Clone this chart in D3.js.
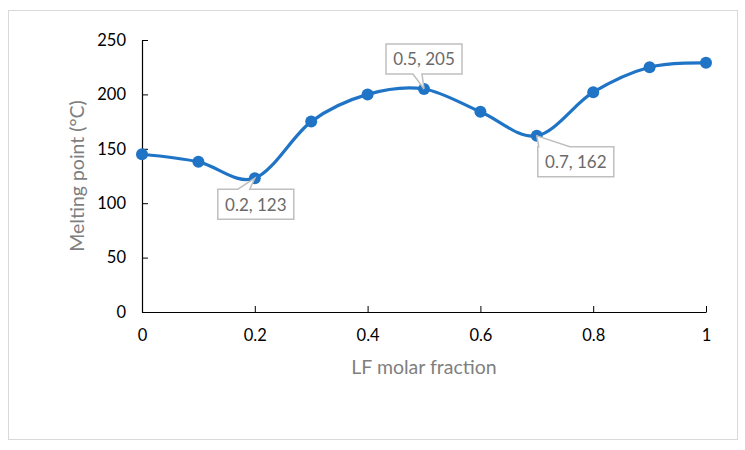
<!DOCTYPE html>
<html>
<head>
<meta charset="utf-8">
<script src="https://cdn.jsdelivr.net/npm/d3@7"></script>
<style>
    html, body { margin: 0; padding: 0; background: #fff; }
    svg { display: block; }
</style>
</head>
<body>
<svg id="chart"></svg>
<script>
'use strict';

const fractions = [0, 0.1, 0.2, 0.3, 0.4, 0.5, 0.6, 0.7, 0.8, 0.9, 1];
const meltingPoints = [145, 138, 123, 175, 200, 205, 184, 162, 202, 225, 229];
const xTicks = [0, 0.2, 0.4, 0.6, 0.8, 1];
const yTicks = [0, 50, 100, 150, 200, 250];
const labelledIdx = [2, 5, 7];

const width = 745;
const height = 450;
const font = 'Lato, "Liberation Sans", sans-serif';
const blue = '#1f74c6';

const svg = d3.select('#chart')
    .attr('width', width)
    .attr('height', height);

// outer chart border
svg.append('rect')
    .attr('x', 8.5)
    .attr('y', 10.5)
    .attr('width', 729)
    .attr('height', 429)
    .attr('fill', 'white')
    .attr('stroke', '#d9d9d9');

const x = d3.scaleLinear().domain([0, 1]).range([142, 706]);
const y = d3.scaleLinear().domain([0, 250]).range([312, 40]);

const xAxis = svg.append('g')
    .attr('transform', `translate(0,${y(0)})`)
    .call(d3.axisBottom(x).tickValues(xTicks).tickSizeInner(-6).tickSizeOuter(0).tickFormat(d3.format('')).tickPadding(17));

const yAxis = svg.append('g')
    .attr('transform', `translate(${x(0)},0)`)
    .call(d3.axisLeft(y).tickValues(yTicks).tickSizeInner(-6).tickSizeOuter(0).tickPadding(16));

[xAxis, yAxis].forEach(ax => {
    ax.select('.domain').attr('stroke', '#000').attr('stroke-width', 1.2);
    ax.selectAll('.tick line').attr('stroke', '#000');
    ax.selectAll('.tick text')
        .attr('font-family', font)
        .attr('font-size', 16.5)
        .attr('fill', '#000');
});

// axis titles
svg.append('text')
    .attr('x', 424)
    .attr('y', 374)
    .attr('text-anchor', 'middle')
    .attr('font-family', font)
    .attr('font-size', 19.5)
    .attr('fill', '#7f7f7f')
    .text('LF molar fraction');

svg.append('text')
    .attr('transform', `translate(84,${(y(0) + y(250)) / 2}) rotate(-90)`)
    .attr('text-anchor', 'middle')
    .attr('font-family', font)
    .attr('font-size', 19.5)
    .attr('fill', '#7f7f7f')
    .text('Melting point (°C)');

const points = fractions.map((f, i) => ({f, v: meltingPoints[i]}));

const line = d3.line()
    .x(d => x(d.f))
    .y(d => y(d.v))
    .curve(d3.curveCardinal.tension(0));

svg.append('path')
    .datum(points)
    .attr('fill', 'none')
    .attr('stroke', blue)
    .attr('stroke-width', 3.2)
    .attr('d', line);

svg.append('g')
    .selectAll('circle')
    .data(points)
    .join('circle')
    .attr('cx', d => x(d.f))
    .attr('cy', d => y(d.v))
    .attr('r', 6)
    .attr('fill', blue);

// callout shape: box with a pointer on its top or bottom edge
function callout(bx, by, bw, bh, side, p0, p1, tx, ty) {
    if (side === 'top') {
        return `M${bx},${by}H${bx + p0}L${tx},${ty}L${bx + p1},${by}H${bx + bw}V${by + bh}H${bx}Z`;
    }
    return `M${bx},${by}H${bx + bw}V${by + bh}H${bx + p1}L${tx},${ty}L${bx + p0},${by + bh}H${bx}Z`;
}

// box placement relative to each labelled point
const boxOffsets = {
    2: {dx: -37, dy: 11, side: 'top', p0: 20, p1: 32},
    5: {dx: -38, dy: -45, side: 'bottom', p0: 27, p1: 36},
    7: {dx: 1, dy: 11, side: 'top', p0: 1, p1: 32}
};

const labels = svg.append('g')
    .selectAll('g')
    .data(labelledIdx)
    .join('g');

labels.append('path')
    .attr('fill', 'white')
    .attr('stroke', '#bfbfbf')
    .attr('stroke-width', 1.5)
    .attr('d', i => {
        const o = boxOffsets[i];
        const px = x(fractions[i]), py = y(meltingPoints[i]);
        return callout(px + o.dx, py + o.dy, 76, 30, o.side, o.p0, o.p1, px, py);
    });

labels.append('text')
    .attr('x', i => x(fractions[i]) + boxOffsets[i].dx + 38)
    .attr('y', i => y(meltingPoints[i]) + boxOffsets[i].dy + 21.5)
    .attr('text-anchor', 'middle')
    .attr('font-family', font)
    .attr('font-size', 17)
    .attr('fill', '#6a6a6a')
    .text(i => `${fractions[i]}, ${meltingPoints[i]}`);
</script>
</body>
</html>
